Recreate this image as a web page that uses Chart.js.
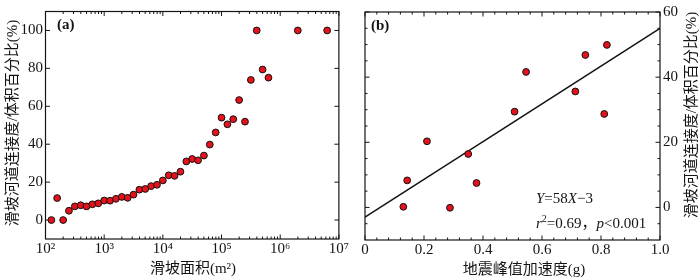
<!DOCTYPE html>
<html><head><meta charset="utf-8">
<script src="https://cdn.jsdelivr.net/npm/chart.js@4/dist/chart.umd.min.js"></script>
<style>
html,body{margin:0;padding:0;background:#fff;}
#wrap{position:relative;width:700px;height:280px;overflow:hidden;background:#fff;}
canvas{position:absolute;top:0;}
#ca{left:0;} #cb{left:350px;}
</style></head><body>
<div id="wrap"><canvas id="ca" width="350" height="280"></canvas><canvas id="cb" width="350" height="280"></canvas></div>
<script>
// ---------- Panel (a) data ----------
const areaA = [126, 158, 200, 251, 316, 398, 501, 631, 794, 1000,
  1259, 1585, 1995, 2512, 3162, 3981, 5012, 6310, 7943, 10000,
  12589, 15849, 19953, 25119, 31623, 39811, 50119, 63096, 79433, 100000,
  125893, 158489, 199526, 251189, 316228, 398107, 501187, 630957, 1995262, 6309573];
const connA = [0, 11.6, 0, 4.9, 7.2, 7.8, 7.2, 8.3, 8.8, 10.3,
  10.2, 11.2, 12.2, 11.7, 13.4, 16.0, 16.4, 17.9, 18.6, 20.9,
  23.6, 23.3, 25.5, 30.9, 32.2, 31.5, 34.0, 39.8, 46.2, 54.0,
  50.5, 53.2, 63.3, 51.9, 73.9, 100, 79.4, 75.1, 100, 100];
const xTickValsA = [1e2, 1e3, 1e4, 1e5, 1e6, 1e7];
const xTickLabelsA = ['10²', '10³', '10⁴', '10⁵', '10⁶', '10⁷'];
const yTickValsA = [0, 20, 40, 60, 80, 100];
const yTickLabelsA = ['0', '20', '40', '60', '80', '100'];

// ---------- Panel (b) data ----------
const pgaB = [0.13, 0.143, 0.21, 0.288, 0.35, 0.378, 0.507, 0.546, 0.713, 0.747, 0.811, 0.82];
const connB = [0.2, 8.3, 20.3, -0.1, 16.4, 7.5, 29.4, 41.6, 35.6, 46.8, 28.7, 49.9];
const fitSlope = 58, fitIntercept = -3;
const fitRange = [0, 1.0];
const xTickValsB = [0, 0.2, 0.4, 0.6, 0.8, 1.0];
const xTickLabelsB = ['0', '0.2', '0.4', '0.6', '0.8', '1.0'];
const yTickValsB = [0, 20, 40, 60];
const yTickLabelsB = ['0', '20', '40', '60'];

// ---------- texts ----------
const yTitle = '滑坡河道连接度/体积百分比(%)';
const xTitleA = '滑坡面积(m²)';
const xTitleB = '地震峰值加速度(g)';

const FAM = '"Liberation Serif", "Noto Sans CJK SC", serif';
const INK = '#141414';
const tickFont = {family: FAM, size: 15};

function drawRuns(ctx, runs, x, y) {
  let cx = x;
  runs.forEach(r => {
    ctx.font = (r.it ? 'italic ' : '') + (r.size || 15) + 'px ' + FAM;
    ctx.fillText(r.t, cx, y + (r.dy || 0));
    cx += ctx.measureText(r.t).width;
  });
}

function framePlugin(spec) {
  return {
    id: 'frame',
    beforeDatasetsDraw(chart) {
      const ctx = chart.ctx, a = chart.chartArea;
      const xs = chart.scales.x, ys = chart.scales.y;
      ctx.save();
      ctx.strokeStyle = INK;
      ctx.lineWidth = 1.2;
      ctx.strokeRect(a.left, a.top, a.right - a.left, a.bottom - a.top);
      ctx.lineWidth = 1;
      ctx.beginPath();
      const tx = (vals, len) => vals.forEach(v => {
        const p = xs.getPixelForValue(v);
        ctx.moveTo(p, a.bottom); ctx.lineTo(p, a.bottom - len);
        ctx.moveTo(p, a.top); ctx.lineTo(p, a.top + len);
      });
      const ty = (vals, len) => vals.forEach(v => {
        const p = ys.getPixelForValue(v);
        ctx.moveTo(a.left, p); ctx.lineTo(a.left + len, p);
        ctx.moveTo(a.right, p); ctx.lineTo(a.right - len, p);
      });
      tx(spec.xMajor, 4.5); tx(spec.xMinor, 2.5);
      ty(spec.yMajor, 4.5); ty(spec.yMinor, 2.5);
      ctx.stroke();
      ctx.restore();
    },
    afterDraw(chart) {
      const ctx = chart.ctx;
      ctx.save();
      ctx.fillStyle = INK;
      spec.texts(ctx, chart);
      ctx.restore();
    }
  };
}

// log minor tick positions (axis decoration)
const logMinor = [];
for (let k = 2; k < 7; k++) for (let m = 2; m <= 9; m++) logMinor.push(m * Math.pow(10, k));

const commonOpts = {
  responsive: false, animation: false, devicePixelRatio: 1, events: [],
  plugins: {legend: {display: false}, tooltip: {enabled: false}}
};
const pointStyle = {backgroundColor: '#e3121b', borderColor: '#111', borderWidth: 1, pointRadius: 3.4, pointHoverRadius: 3.4};

// ---------- Chart (a) ----------
new Chart(document.getElementById('ca'), {
  type: 'scatter',
  data: {datasets: [Object.assign({data: areaA.map((v, i) => ({x: v, y: connA[i]}))}, pointStyle)]},
  options: Object.assign({}, commonOpts, {
    layout: {padding: {top: 9, right: 11, left: 0, bottom: 0}},
    scales: {
      x: {
        type: 'logarithmic', min: 1e2, max: 1e7,
        grid: {display: false, drawTicks: false}, border: {display: false},
        afterBuildTicks: s => { s.ticks = xTickValsA.map(v => ({value: v})); },
        afterFit: s => { s.height = 41; },
        ticks: {font: tickFont, color: INK, padding: 1, autoSkip: false, maxRotation: 0,
          callback: (v, i) => xTickLabelsA[i]}
      },
      y: {
        min: -10, max: 110,
        grid: {display: false, drawTicks: false}, border: {display: false},
        afterBuildTicks: s => { s.ticks = yTickValsA.map(v => ({value: v})); },
        afterFit: s => { s.width = 45.5; },
        ticks: {font: tickFont, color: INK, padding: 2.5, callback: (v, i) => yTickLabelsA[i]}
      }
    }
  }),
  plugins: [framePlugin({
    xMajor: xTickValsA, xMinor: logMinor, yMajor: yTickValsA, yMinor: [],
    texts: (ctx) => {
      ctx.font = 'bold 15px ' + FAM; ctx.textBaseline = 'middle'; ctx.textAlign = 'left';
      ctx.fillText('(a)', 57, 25);
      ctx.font = '15px ' + FAM; ctx.textAlign = 'center';
      ctx.fillText(xTitleA, 193, 269);
      ctx.save(); ctx.translate(13, 123); ctx.rotate(-Math.PI / 2);
      ctx.fillText(yTitle, 0, 0); ctx.restore();
    }
  })]
});

// ---------- Chart (b) ----------
new Chart(document.getElementById('cb'), {
  type: 'scatter',
  data: {datasets: [
    Object.assign({data: pgaB.map((v, i) => ({x: v, y: connB[i]}))}, pointStyle),
    {type: 'line', data: fitRange.map(x => ({x: x, y: fitSlope * x + fitIntercept})),
     borderColor: '#111', borderWidth: 1.5, pointRadius: 0, fill: false, order: 1}
  ]},
  options: Object.assign({}, commonOpts, {
    layout: {padding: {top: 9, right: 0, left: 15, bottom: 0}},
    scales: {
      x: {
        type: 'linear', min: 0, max: 1,
        grid: {display: false, drawTicks: false}, border: {display: false},
        afterBuildTicks: s => { s.ticks = xTickValsB.map(v => ({value: v})); },
        afterFit: s => { s.height = 40; },
        ticks: {font: tickFont, color: INK, padding: 1, autoSkip: false, maxRotation: 0,
          callback: (v, i) => xTickLabelsB[i]}
      },
      y: {
        position: 'right', min: -10, max: 60,
        grid: {display: false, drawTicks: false}, border: {display: false},
        afterBuildTicks: s => { s.ticks = yTickValsB.map(v => ({value: v})); },
        afterFit: s => { s.width = 40; },
        ticks: {font: tickFont, color: INK, padding: 3, callback: (v, i) => yTickLabelsB[i]}
      }
    }
  }),
  plugins: [framePlugin({
    xMajor: xTickValsB, xMinor: [0.04,0.08,0.12,0.16,0.24,0.28,0.32,0.36,0.44,0.48,0.52,0.56,0.64,0.68,0.72,0.76,0.84,0.88,0.92,0.96],
    yMajor: yTickValsB, yMinor: [-5,5,10,15,25,30,35,45,50,55],
    texts: (ctx) => {
      ctx.font = 'bold 15px ' + FAM; ctx.textBaseline = 'middle'; ctx.textAlign = 'left';
      ctx.fillText('(b)', 21, 26);
      ctx.textBaseline = 'alphabetic';
      drawRuns(ctx, [{t: 'Y', it: true}, {t: '=58'}, {t: 'X', it: true}, {t: '−3'}], 186, 203);
      drawRuns(ctx, [{t: 'r', it: true}, {t: '2', size: 10, dy: -6}, {t: '=0.69，'}, {t: 'p', it: true}, {t: '<0.001'}], 186, 228);
      ctx.font = '15px ' + FAM; ctx.textAlign = 'center'; ctx.textBaseline = 'middle';
      ctx.fillText(xTitleB, 174, 270);
      ctx.save(); ctx.translate(342, 115); ctx.rotate(-Math.PI / 2);
      ctx.fillText(yTitle, 0, 0); ctx.restore();
    }
  })]
});
</script>
</body></html>
